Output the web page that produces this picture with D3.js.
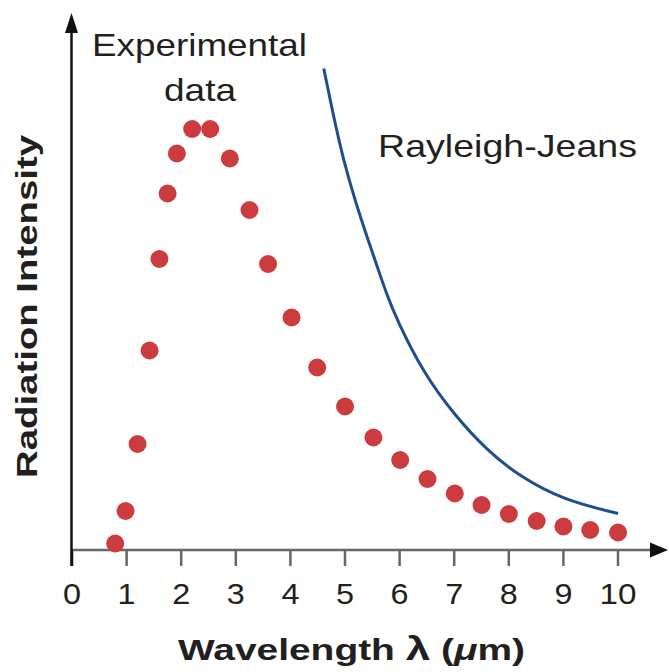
<!DOCTYPE html>
<html>
<head>
<meta charset="utf-8">
<script src="https://cdn.jsdelivr.net/npm/d3@7"></script>
<style>
  body { margin: 0; background: #fff; }
  text { font-family: "Liberation Sans", Arial, sans-serif; fill: #231f20; }
</style>
</head>
<body>
<div id="chart"></div>
<script>
// Experimental points (wavelength in um, intensity in arbitrary units)
var dataLambda = [0.80, 0.99, 1.21, 1.43, 1.61, 1.76, 1.93, 2.21, 2.54, 2.90, 3.26, 3.60,
                  4.03, 4.50, 5.01, 5.53, 6.02, 6.52, 7.02, 7.51, 8.01, 8.52, 9.01, 9.50, 10.01];
var dataIntensity = [1.3, 7.8, 21.2, 39.9, 58.2, 71.3, 79.3, 84.2, 84.2, 78.3, 68.0, 57.2,
                     46.5, 36.5, 28.7, 22.5, 18.0, 14.2, 11.3, 9.0, 7.2, 5.8, 4.7, 4.0, 3.5];

// Rayleigh-Jeans curve
var rjLambda = [4.62, 4.80, 4.98, 5.19, 5.41, 5.59, 5.77, 5.96, 6.44, 6.99, 7.60, 8.21, 9.01, 10.01];
var rjIntensity = [96.3, 86.7, 78.0, 70.0, 62.7, 57.0, 51.2, 46.0, 35.5, 27.3, 20.0, 14.7, 10.0, 7.3];

var xTicks = [0, 1, 2, 3, 4, 5, 6, 7, 8, 9, 10];

var svgWidth = 669;
var svgHeight = 672;

var svg = d3.select("#chart").append("svg")
            .attr("width", svgWidth)
            .attr("height", svgHeight);

// Scales
var xScale = d3.scaleLinear().domain([0, 10]).range([71.5, 617.5]);
var yScale = d3.scaleLinear().domain([0, 100]).range([550, 50]);

// Stretch a text to a measured width
function fitWidth(sel, w) {
  sel.attr("textLength", w).attr("lengthAdjust", "spacingAndGlyphs");
  return sel;
}

// ----------------- Axes -----------------
// X axis ticks and labels
var xAxis = svg.append("g")
               .attr("transform", `translate(0, ${yScale(0)})`)
               .call(d3.axisBottom(xScale).tickValues(xTicks).tickSize(16).tickSizeOuter(0).tickPadding(17));
xAxis.select(".domain").remove();
xAxis.selectAll(".tick line")
     .attr("stroke", d => d === 0 ? "#111" : "#666")
     .attr("stroke-width", 2.5);
xAxis.selectAll(".tick text")
     .attr("font-size", 30)
     .attr("font-family", "Liberation Sans, Arial, sans-serif")
     .attr("fill", "#231f20")
     .each(function(d) { fitWidth(d3.select(this), d === 10 ? 37 : 18); });

// X axis line with arrow
svg.append("line")
   .attr("x1", xScale(0)).attr("x2", 652)
   .attr("y1", yScale(0)).attr("y2", yScale(0))
   .attr("stroke", "#666").attr("stroke-width", 2.5);
svg.append("path")
   .attr("d", `M650,${yScale(0) - 7.5} L668,${yScale(0)} L650,${yScale(0) + 7.5} Z`)
   .attr("fill", "#111");

// Y axis line with arrow
svg.append("line")
   .attr("x1", xScale(0)).attr("x2", xScale(0))
   .attr("y1", yScale(0) + 16).attr("y2", 30)
   .attr("stroke", "#111").attr("stroke-width", 2.5);
svg.append("path")
   .attr("d", `M${xScale(0) - 6.5},33 L${xScale(0)},13 L${xScale(0) + 6.5},33 Z`)
   .attr("fill", "#111");

// Axis titles
var xTitle = svg.append("text")
   .attr("x", 351.5).attr("y", 660)
   .attr("text-anchor", "middle")
   .attr("font-size", 30)
   .attr("font-weight", "bold");
xTitle.append("tspan").text("Wavelength ");
xTitle.append("tspan").attr("font-size", 34).text("λ");
xTitle.append("tspan").text(" (");
xTitle.append("tspan").attr("font-style", "italic").text("μ");
xTitle.append("tspan").text("m)");
fitWidth(xTitle, 347);

fitWidth(svg.append("text")
   .attr("transform", "translate(37, 306.5) rotate(-90)")
   .attr("text-anchor", "middle")
   .attr("font-size", 30)
   .attr("font-weight", "bold")
   .text("Radiation Intensity"), 343);

// ----------------- Rayleigh-Jeans curve -----------------
var rjPoints = rjLambda.map((d, i) => [d, rjIntensity[i]]);
var line = d3.line()
             .x(d => xScale(d[0]))
             .y(d => yScale(d[1]))
             .curve(d3.curveBasis);
svg.append("path")
   .datum(rjPoints)
   .attr("d", line)
   .attr("fill", "none")
   .attr("stroke", "#1d4f8e")
   .attr("stroke-width", 3);

// ----------------- Experimental markers -----------------
svg.append("g").selectAll("circle")
   .data(dataLambda)
   .enter()
   .append("circle")
   .attr("cx", d => xScale(d))
   .attr("cy", (d, i) => yScale(dataIntensity[i]))
   .attr("r", 9)
   .attr("fill", "#cc3b3e");

// ----------------- Labels -----------------
fitWidth(svg.append("text")
   .attr("x", 199.5).attr("y", 56)
   .attr("text-anchor", "middle")
   .attr("font-size", 32)
   .text("Experimental"), 215);
fitWidth(svg.append("text")
   .attr("x", 200).attr("y", 101)
   .attr("text-anchor", "middle")
   .attr("font-size", 32)
   .text("data"), 72);
fitWidth(svg.append("text")
   .attr("x", 507.5).attr("y", 157)
   .attr("text-anchor", "middle")
   .attr("font-size", 32)
   .text("Rayleigh-Jeans"), 259);
</script>
</body>
</html>
